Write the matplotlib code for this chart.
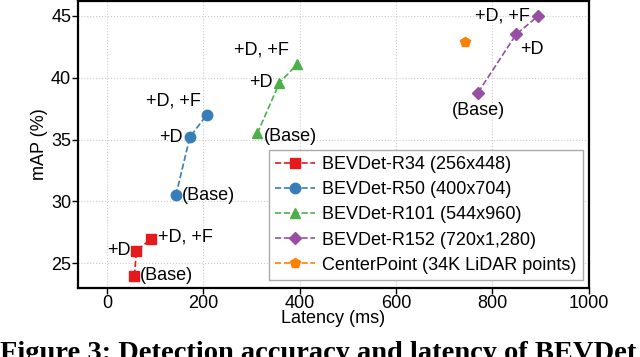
import matplotlib.pyplot as plt

plt.rcParams["font.family"] = ["Liberation Sans", "DejaVu Sans"]

# --------- DATA ----------
r34_lat = [57, 61, 92]
r34_map = [24.0, 26.0, 27.0]
r50_lat = [143, 172, 207]
r50_map = [30.5, 35.2, 37.0]
r101_lat = [312, 358, 395]
r101_map = [35.5, 39.6, 41.1]
r152_lat = [770, 849, 895]
r152_map = [38.8, 43.5, 45.0]
cp_lat = [743]
cp_map = [42.9]

point_names = ["(Base)", "+D", "+D, +F"]
labels = ["BEVDet-R34 (256x448)", "BEVDet-R50 (400x704)", "BEVDet-R101 (544x960)",
          "BEVDet-R152 (720x1,280)", "CenterPoint (34K LiDAR points)"]
colors = ["#e41a1c", "#377eb8", "#4daf4a", "#984ea3", "#ff7f00"]
markers = ["s", "o", "^", "D", "p"]

# --------- PLOT ----------
fig = plt.figure(figsize=(6.4, 3.57), dpi=100)
ax = fig.add_axes([0.122, 0.193, 0.798, 0.804])

series = [(r34_lat, r34_map), (r50_lat, r50_map), (r101_lat, r101_map),
          (r152_lat, r152_map), (cp_lat, cp_map)]
for (x, y), lab, c, m in zip(series, labels, colors, markers):
    ms = 6.5 if m == "D" else 7.5
    ax.plot(x, y, ls="--", color=c, marker=m, markersize=ms, label=lab, lw=1.2)

# point annotations: (dx, dy, ha, va) in points
offsets = {
    "r34": [(4, 0, "left", "center"), (-4, 0, "right", "center"), (5, 1, "left", "center")],
    "r50": [(4, 0, "left", "center"), (-5, 0, "right", "center"), (-4, 4, "right", "bottom")],
    "r101": [(5, -2, "left", "center"), (-5, 0, "right", "center"), (-6, 4, "right", "bottom")],
    "r152": [(0, -7, "center", "top"), (3, -5, "left", "top"), (-6, 0, "right", "center")],
}
for key, (x, y) in zip(["r34", "r50", "r101", "r152"], series[:4]):
    for name, xi, yi, (dx, dy, ha, va) in zip(point_names, x, y, offsets[key]):
        ax.annotate(name, (xi, yi), xytext=(dx, dy), textcoords="offset points",
                    ha=ha, va=va, fontsize=13)

ax.set_xlim(-60, 1000)
ax.set_ylim(23, 46.2)
ax.set_xticks([0, 200, 400, 600, 800, 1000])
ax.set_yticks([25, 30, 35, 40, 45])
ax.tick_params(labelsize=13, length=4, width=1, pad=1)
ax.set_xlabel("Latency (ms)", fontsize=13, labelpad=-1.5)
ax.set_ylabel("mAP (%)", fontsize=13, labelpad=2)
ax.grid(True, ls=":", color="#cccccc", lw=0.8)
for s in ax.spines.values():
    s.set_linewidth(1.6)

ax.legend(loc="lower right", fontsize=13, labelspacing=0.45, handlelength=2.2,
          handletextpad=0.4, borderpad=0.35, borderaxespad=0, fancybox=False,
          edgecolor="#aaaaaa", framealpha=1, bbox_to_anchor=(0.988, 0.028))

fig.text(0.0, -0.008, "Figure 3: Detection accuracy and latency of BEVDet",
         family="Liberation Serif", weight="bold", fontsize=20.5, ha="left", va="baseline")

plt.savefig("out.png", dpi=100)
